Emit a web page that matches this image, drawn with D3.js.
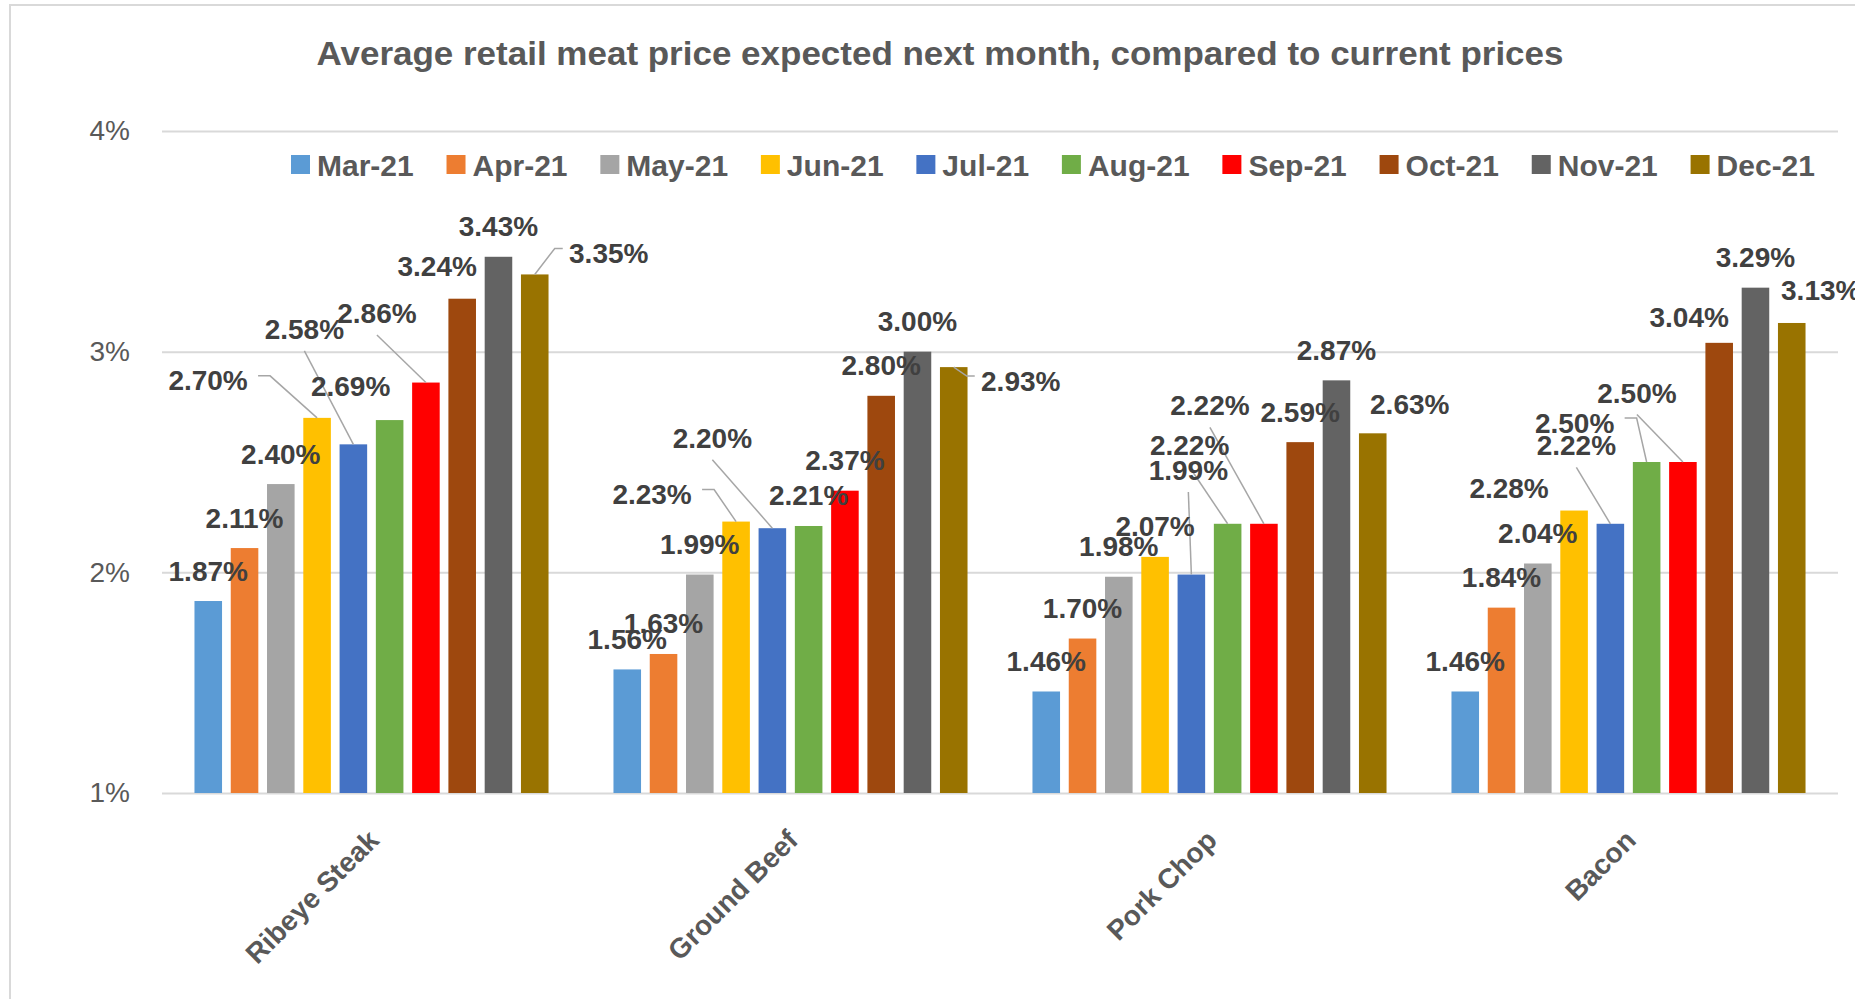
<!DOCTYPE html>
<html>
<head>
<meta charset="utf-8">
<script src="https://cdn.jsdelivr.net/npm/d3@7"></script>
<style>
  body { margin: 0; background: #fff; }
  text { font-family: "Liberation Sans", Arial, sans-serif; }
</style>
</head>
<body>
<div id="chart"></div>
<script>
// categories and series
const categories = ["Ribeye Steak", "Ground Beef", "Pork Chop", "Bacon"];
const months = ["Mar-21", "Apr-21", "May-21", "Jun-21", "Jul-21", "Aug-21", "Sep-21", "Oct-21", "Nov-21", "Dec-21"];
const ribeyeSteak = [1.87, 2.11, 2.40, 2.70, 2.58, 2.69, 2.86, 3.24, 3.43, 3.35];
const groundBeef  = [1.56, 1.63, 1.99, 2.23, 2.20, 2.21, 2.37, 2.80, 3.00, 2.93];
const porkChop    = [1.46, 1.70, 1.98, 2.07, 1.99, 2.22, 2.22, 2.59, 2.87, 2.63];
const bacon       = [1.46, 1.84, 2.04, 2.28, 2.22, 2.50, 2.50, 3.04, 3.29, 3.13];
const yTicks = [1, 2, 3, 4];

const colors = ["#5B9BD5", "#ED7D31", "#A5A5A5", "#FFC000", "#4472C4",
                "#70AD47", "#FF0000", "#9E480E", "#636363", "#997300"];

// labels that were dragged by hand: [dx, dy from bar top, leader type]
const nudges = {
  "Ribeye Steak": {"Jun-21": [-109, -38, "right"], "Jul-21": [-49, -116, "below"], "Aug-21": [-39, -35],
                   "Sep-21": [-49, -70, "below"], "Oct-21": [-25, -33], "Dec-21": [74, -22, "left"]},
  "Ground Beef":  {"Jun-21": [-84, -28, "right"], "Jul-21": [-60, -91, "below"], "Dec-21": [67, 13, "left"]},
  "Pork Chop":    {"Jul-21": [-3, -105, "below"], "Aug-21": [-38, -79, "below"], "Sep-21": [-54, -119, "below"],
                   "Dec-21": [37, -30]},
  "Bacon":        {"Jun-21": [-65, -23], "Jul-21": [-34, -79, "below"], "Aug-21": [-72, -40, "right"],
                   "Sep-21": [-46, -70, "below"], "Oct-21": [-30, -26], "Dec-21": [29, -33]}
};

var seriesByCat = [ribeyeSteak, groundBeef, porkChop, bacon];
var rows = [];
categories.forEach(function(c, i) {
  months.forEach(function(m, j) {
    rows.push({cat: c, month: m, value: seriesByCat[i][j], color: colors[j]});
  });
});

var width = 1855, height = 999;

var svg = d3.select("#chart").append("svg")
  .attr("width", width)
  .attr("height", height);

svg.append("rect").attr("width", width).attr("height", height).attr("fill", "#fff");

// chart frame
svg.append("rect")
  .attr("x", 10).attr("y", 5)
  .attr("width", 1900).attr("height", 1100)
  .attr("fill", "none").attr("stroke", "#d9d9d9").attr("stroke-width", 2);

// title
svg.append("text")
  .attr("x", 940).attr("y", 65)
  .attr("text-anchor", "middle")
  .attr("font-size", 33)
  .attr("font-weight", "bold")
  .attr("fill", "#595959")
  .attr("textLength", 1247)
  .attr("lengthAdjust", "spacingAndGlyphs")
  .text("Average retail meat price expected next month, compared to current prices");

// scales
var x0 = d3.scaleBand().domain(categories).range([162, 1838]).paddingInner(0.155).paddingOuter(0.0775);
var x1 = d3.scaleBand().domain(months).range([0, x0.bandwidth()]).paddingInner(0.24);
var y = d3.scaleLinear().domain([1, 4]).range([793, 131]);

// y axis + gridlines
var yAxis = svg.append("g")
  .attr("transform", "translate(162,0)")
  .call(d3.axisLeft(y).tickValues(yTicks).tickSize(-(1838 - 162)).tickPadding(32)
        .tickFormat(function(d) { return d + "%"; }));
yAxis.select(".domain").remove();
yAxis.selectAll("line").attr("stroke", "#d9d9d9").attr("stroke-width", 2);
yAxis.selectAll("text").attr("font-size", 28).attr("fill", "#595959")
  .style("font-family", "'Liberation Sans', Arial, sans-serif");

// x axis labels
var xAxis = svg.append("g")
  .attr("transform", "translate(0,793)")
  .call(d3.axisBottom(x0).tickSize(0));
xAxis.select(".domain").remove();
xAxis.selectAll("text")
  .attr("x", 0).attr("y", 0).attr("dy", null)
  .attr("transform", "translate(9,49) rotate(-45)")
  .style("text-anchor", "end")
  .style("font-family", "'Liberation Sans', Arial, sans-serif")
  .attr("font-size", 28)
  .attr("font-weight", "bold")
  .attr("fill", "#595959");

// bars
svg.append("g").selectAll("rect")
  .data(rows)
  .enter()
  .append("rect")
    .attr("x", function(d) { return x0(d.cat) + x1(d.month); })
    .attr("y", function(d) { return y(d.value); })
    .attr("width", x1.bandwidth())
    .attr("height", function(d) { return y(1) - y(d.value); })
    .attr("fill", function(d) { return d.color; });

// label positions
var labelW = 84, capH = 21;
rows.forEach(function(d) {
  var n = (nudges[d.cat] || {})[d.month] || [0, -31];
  d.bx = x0(d.cat) + x1(d.month) + x1.bandwidth() / 2;
  d.by = y(d.value);
  d.lx = d.bx + n[0];
  d.ly = d.by + n[1];
  d.leader = n[2];
});

// leader lines
var line = d3.line();
svg.append("g").selectAll("path")
  .data(rows.filter(function(d) { return d.leader; }))
  .enter()
  .append("path")
    .attr("fill", "none")
    .attr("stroke", "#a6a6a6")
    .attr("stroke-width", 1.5)
    .attr("d", function(d) {
      var pts;
      if (d.leader == "right") {
        pts = [[d.lx + labelW / 2 + 8, d.ly - 4], [d.lx + labelW / 2 + 20, d.ly - 4], [d.bx, d.by]];
      } else if (d.leader == "left") {
        pts = [[d.lx - labelW / 2 - 4, d.ly - 4], [d.lx - labelW / 2 - 12, d.ly - 4], [d.bx, d.by]];
      } else {
        pts = [[d.lx, d.ly + capH / 2 + 12], [d.bx, d.by]];
      }
      return line(pts);
    });

// data labels
svg.append("g").selectAll("text")
  .data(rows)
  .enter()
  .append("text")
    .attr("x", function(d) { return d.lx; })
    .attr("y", function(d) { return d.ly + capH / 2; })
    .attr("text-anchor", "middle")
    .attr("font-size", 28)
    .attr("font-weight", "bold")
    .attr("fill", "#404040")
    .text(function(d) { return d.value.toFixed(2) + "%"; });

// legend, spread from 291 to about 1815 like the original
var legend = svg.append("g").attr("transform", "translate(291,165)");
var items = months.map(function(m, j) {
  var item = legend.append("g");
  item.append("rect")
    .attr("x", 0).attr("y", -10)
    .attr("width", 19).attr("height", 19)
    .attr("fill", colors[j]);
  var t = item.append("text")
    .attr("x", 26).attr("y", 11)
    .attr("font-size", 30)
    .attr("font-weight", "bold")
    .attr("fill", "#595959")
    .text(m);
  return {g: item, w: 26 + t.node().getComputedTextLength()};
});
var spare = (1815 - 291 - d3.sum(items, function(d) { return d.w; })) / (items.length - 1);
var lx = 0;
items.forEach(function(d) {
  d.g.attr("transform", "translate(" + lx + ",0)");
  lx += d.w + spare;
});
</script>
</body>
</html>
